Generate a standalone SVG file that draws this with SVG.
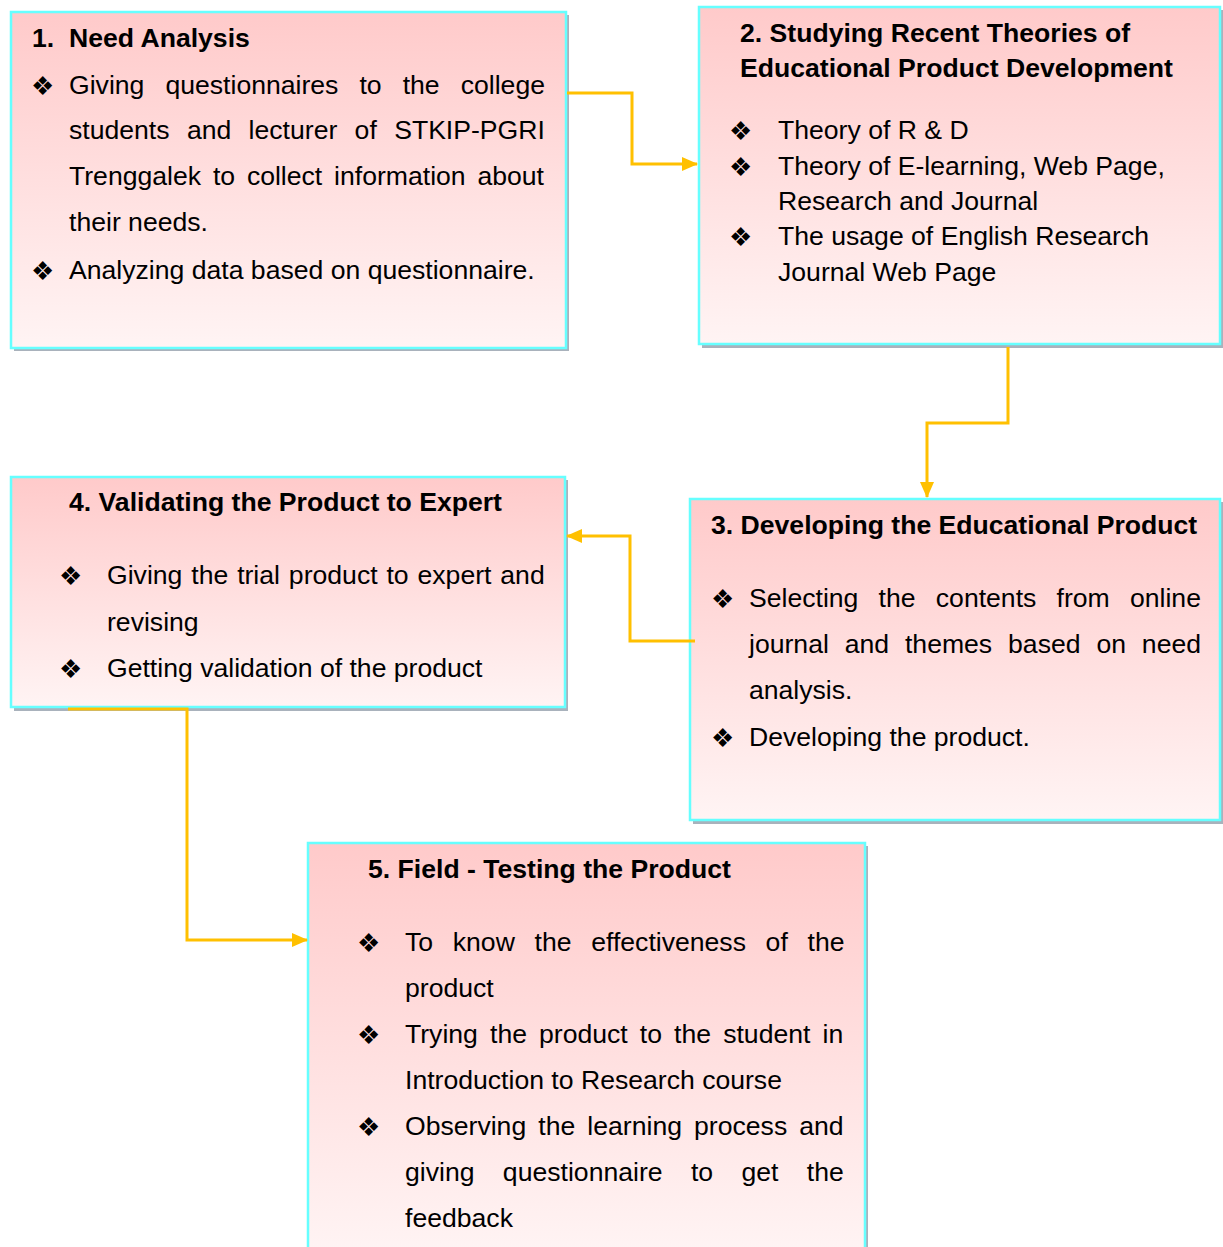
<svg xmlns="http://www.w3.org/2000/svg" width="1223" height="1247" viewBox="0 0 1223 1247">
<defs>
<linearGradient id="g" x1="0" y1="0" x2="0" y2="1">
<stop offset="0" stop-color="#FFCACA"/>
<stop offset="1" stop-color="#FFF4F4"/>
</linearGradient>
<marker id="ah" markerUnits="userSpaceOnUse" markerWidth="16" markerHeight="16" viewBox="0 0 16 16" refX="15" refY="8" orient="auto">
<path d="M0,1 L16,8 L0,15 Z" fill="#FFC000"/>
</marker>
<style>
.sh{fill:#A9B2BC}
.bx{fill:url(#g);stroke:#66FFFF;stroke-width:2.5}
.t{font-family:"Liberation Sans",Arial,sans-serif;font-size:26.6px;fill:#000}
.b{font-weight:bold}
.bu{font-family:"DejaVu Sans",sans-serif;font-size:26px;fill:#000}
.c{fill:none;stroke:#FFC000;stroke-width:3}
</style>
</defs>
<rect width="1223" height="1247" fill="#fff"/>

<g id="node1">
<rect class="sh" x="14" y="15" width="555" height="336"/>
<rect class="bx" x="11" y="12" width="555" height="336"/>
<text class="t b" x="32" y="47">1.</text>
<text class="t b" x="69" y="47">Need Analysis</text>
<text class="bu" x="31" y="95">❖</text>
<text class="t" x="69" y="94" word-spacing="13.66">Giving questionnaires to the college</text>
<text class="t" x="69" y="139" word-spacing="9.96">students and lecturer of STKIP-PGRI</text>
<text class="t" x="69" y="185" word-spacing="4.43">Trenggalek to collect information about</text>
<text class="t" x="69" y="231">their needs.</text>
<text class="bu" x="31" y="280">❖</text>
<text class="t" x="69" y="279">Analyzing data based on questionnaire.</text>
</g>

<g id="node2">
<rect class="sh" x="702" y="10" width="521" height="338"/>
<rect class="bx" x="699" y="7" width="521" height="337"/>
<text class="t b" x="740" y="42">2. Studying Recent Theories of</text>
<text class="t b" x="740" y="77">Educational Product Development</text>
<text class="bu" x="729" y="140">❖</text>
<text class="t" x="778" y="139">Theory of R &amp; D</text>
<text class="bu" x="729" y="176">❖</text>
<text class="t" x="778" y="175">Theory of E-learning, Web Page,</text>
<text class="t" x="778" y="210">Research and Journal</text>
<text class="bu" x="729" y="246">❖</text>
<text class="t" x="778" y="245">The usage of English Research</text>
<text class="t" x="778" y="281">Journal Web Page</text>
</g>

<g id="node3">
<rect class="sh" x="693" y="502" width="530" height="322"/>
<rect class="bx" x="690" y="499" width="530" height="321"/>
<text class="t b" x="711" y="534">3. Developing the Educational Product</text>
<text class="bu" x="711" y="608">❖</text>
<text class="t" x="749" y="607" word-spacing="12.83">Selecting the contents from online</text>
<text class="t" x="749" y="653" word-spacing="8.49">journal and themes based on need</text>
<text class="t" x="749" y="699">analysis.</text>
<text class="bu" x="711" y="747">❖</text>
<text class="t" x="749" y="746">Developing the product.</text>
</g>

<g id="node4">
<rect class="sh" x="14" y="480" width="554" height="231"/>
<rect class="bx" x="11" y="477" width="554" height="230"/>
<text class="t b" x="69" y="511">4. Validating the Product to Expert</text>
<text class="bu" x="59" y="585">❖</text>
<text class="t" x="107" y="584" word-spacing="1.5">Giving the trial product to expert and</text>
<text class="t" x="107" y="631">revising</text>
<text class="bu" x="59" y="678">❖</text>
<text class="t" x="107" y="677">Getting validation of the product</text>
</g>

<g id="node5">
<rect class="sh" x="311" y="846" width="557" height="410"/>
<rect class="bx" x="308" y="843" width="557" height="410"/>
<text class="t b" x="368" y="878">5. Field - Testing the Product</text>
<text class="bu" x="357" y="952">❖</text>
<text class="t" x="405" y="951" word-spacing="12.3">To know the effectiveness of the</text>
<text class="t" x="405" y="997">product</text>
<text class="bu" x="357" y="1044">❖</text>
<text class="t" x="405" y="1043" word-spacing="4.7">Trying the product to the student in</text>
<text class="t" x="405" y="1089">Introduction to Research course</text>
<text class="bu" x="357" y="1136">❖</text>
<text class="t" x="405" y="1135" word-spacing="4.7">Observing the learning process and</text>
<text class="t" x="405" y="1181" word-spacing="21">giving questionnaire to get the</text>
<text class="t" x="405" y="1227">feedback</text>
</g>

<g id="connectors">
<polyline class="c" points="567,93 632,93 632,164 697,164" marker-end="url(#ah)"/>
<polyline class="c" points="1008,347 1008,423 927,423 927,497" marker-end="url(#ah)"/>
<polyline class="c" points="695,641 630,641 630,536 567,536" marker-end="url(#ah)"/>
<polyline class="c" points="68,709 187,709 187,940 307,940" marker-end="url(#ah)"/>
</g>
</svg>
